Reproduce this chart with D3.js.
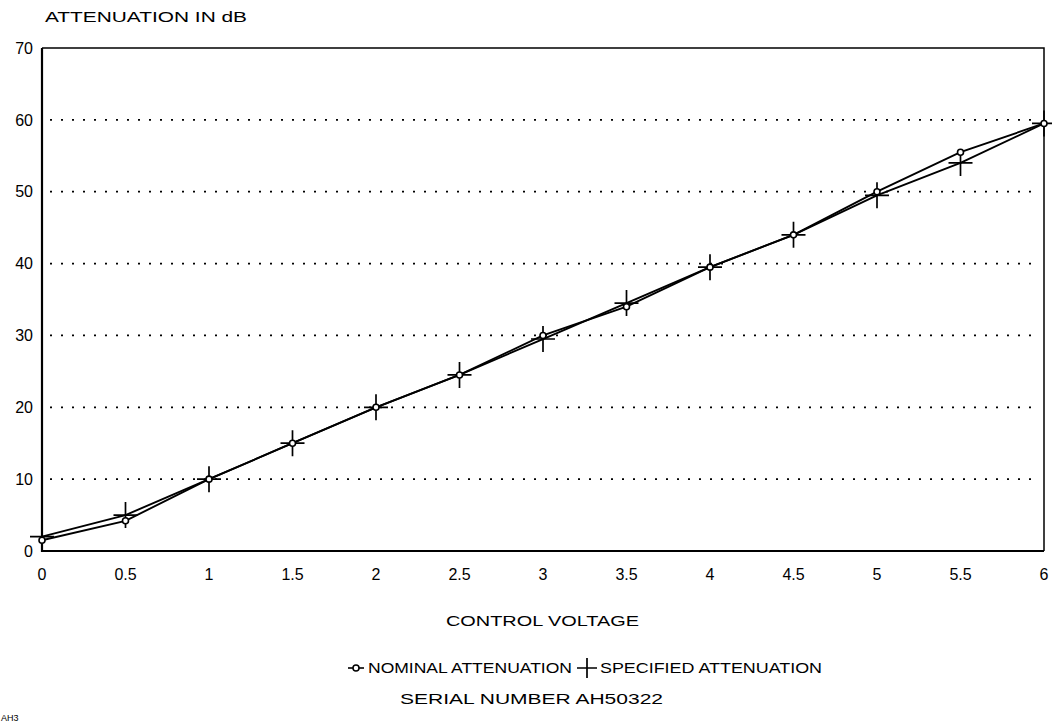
<!DOCTYPE html>
<html>
<head>
<meta charset="utf-8">
<script src="https://cdn.jsdelivr.net/npm/d3@7"></script>
<style>
  body { margin: 0; background: #fff; }
  text { font-family: "Liberation Sans", Arial, sans-serif; fill: #000; }
</style>
</head>
<body>
<div id="chart"></div>
<script>
// control voltage steps and the two attenuation curves (dB)
const voltage = [0, 0.5, 1, 1.5, 2, 2.5, 3, 3.5, 4, 4.5, 5, 5.5, 6];
const nominal = [1.5, 4.2, 10, 15, 20, 24.5, 30, 34, 39.5, 44, 50, 55.5, 59.5];
const specified = [2, 5, 10, 15, 20, 24.5, 29.5, 34.5, 39.5, 44, 49.5, 54, 59.5];
const yTicks = [0, 10, 20, 30, 40, 50, 60, 70];
const gridValues = [10, 20, 30, 40, 50, 60];
const xTickLabels = ["0", "0.5", "1", "1.5", "2", "2.5", "3", "3.5", "4", "4.5", "5", "5.5", "6"];

const width = 1052;
const height = 723;
const marginTop = 48;
const marginRight = 8;
const marginBottom = 172;
const marginLeft = 42;

var svg = d3.select("#chart")
  .append("svg")
    .attr("width", width)
    .attr("height", height);

var x = d3.scaleLinear([0, 6], [marginLeft, width - marginRight]);
var y = d3.scaleLinear([0, 70], [height - marginBottom, marginTop]);

// dotted grid
svg.selectAll(".grid")
  .data(gridValues)
  .join("line")
    .attr("x1", x(0) + 8)
    .attr("x2", x(6) - 4)
    .attr("y1", d => y(d))
    .attr("y2", d => y(d))
    .attr("stroke", "#000")
    .attr("stroke-width", 1.7)
    .attr("stroke-dasharray", "2,9");

// frame: thin top/right, heavier left/bottom
svg.append("path")
  .attr("d", `M${x(0)},${y(70)}H${x(6)}V${y(0)}`)
  .attr("fill", "none")
  .attr("stroke", "#000")
  .attr("stroke-width", 1.5);
svg.append("path")
  .attr("d", `M${x(0)},${y(70)}V${y(0)}H${x(6)}`)
  .attr("fill", "none")
  .attr("stroke", "#000")
  .attr("stroke-width", 2.2);

// y labels
svg.selectAll(".ylab")
  .data(yTicks)
  .join("text")
    .attr("x", 33)
    .attr("y", d => y(d))
    .attr("dy", "0.36em")
    .attr("text-anchor", "end")
    .style("font-size", "16px")
    .text(d => d);

// x labels
svg.selectAll(".xlab")
  .data(voltage)
  .join("text")
    .attr("x", d => x(d))
    .attr("y", 580)
    .attr("text-anchor", "middle")
    .style("font-size", "16px")
    .text((d, i) => xTickLabels[i]);

var nomData = voltage.map((v, i) => ({v: v, a: nominal[i]}));
var specData = voltage.map((v, i) => ({v: v, a: specified[i]}));

var line = d3.line()
  .x(d => x(d.v))
  .y(d => y(d.a));

svg.append("path")
  .datum(specData)
  .attr("fill", "none")
  .attr("stroke", "#000")
  .attr("stroke-width", 1.9)
  .attr("d", line);

svg.append("path")
  .datum(nomData)
  .attr("fill", "none")
  .attr("stroke", "#000")
  .attr("stroke-width", 1.9)
  .attr("d", line);

// plus markers for specified
svg.selectAll(".plus")
  .data(specData)
  .join("path")
    .attr("transform", d => `translate(${x(d.v)},${y(d.a)})`)
    .attr("d", "M-12,0H12M0,-13V13")
    .attr("stroke", "#000")
    .attr("stroke-width", 1.7);

// small circles for nominal
svg.selectAll(".dot")
  .data(nomData)
  .join("circle")
    .attr("cx", d => x(d.v))
    .attr("cy", d => y(d.a))
    .attr("r", 3)
    .attr("fill", "#fff")
    .attr("stroke", "#000")
    .attr("stroke-width", 1.6);

// titles
svg.append("text")
  .attr("x", 45)
  .attr("y", 22)
  .attr("textLength", 202)
  .attr("lengthAdjust", "spacingAndGlyphs")
  .style("font-size", "15px")
  .text("ATTENUATION IN dB");

svg.append("text")
  .attr("x", 446)
  .attr("y", 626)
  .attr("textLength", 193)
  .attr("lengthAdjust", "spacingAndGlyphs")
  .style("font-size", "15px")
  .text("CONTROL VOLTAGE");

// legend
var lg = svg.append("g").attr("transform", "translate(0,668)");
lg.append("line")
  .attr("x1", 348).attr("x2", 364)
  .attr("stroke", "#000").attr("stroke-width", 1.6);
lg.append("circle")
  .attr("cx", 356).attr("r", 3)
  .attr("fill", "#fff").attr("stroke", "#000").attr("stroke-width", 1.5);
lg.append("text")
  .attr("x", 368).attr("dy", "0.36em")
  .attr("textLength", 204)
  .attr("lengthAdjust", "spacingAndGlyphs")
  .style("font-size", "15px")
  .text("NOMINAL ATTENUATION");
lg.append("path")
  .attr("d", "M577,0H597M587,-10V10")
  .attr("stroke", "#000").attr("stroke-width", 1.7);
lg.append("text")
  .attr("x", 600).attr("dy", "0.36em")
  .attr("textLength", 222)
  .attr("lengthAdjust", "spacingAndGlyphs")
  .style("font-size", "15px")
  .text("SPECIFIED ATTENUATION");

svg.append("text")
  .attr("x", 400)
  .attr("y", 704)
  .attr("textLength", 263)
  .attr("lengthAdjust", "spacingAndGlyphs")
  .style("font-size", "15px")
  .text("SERIAL NUMBER AH50322");

// small stamp at the bottom-left edge
svg.append("text")
  .attr("x", 1)
  .attr("y", 721)
  .style("font-size", "9px")
  .text("AH3");
</script>
</body>
</html>
